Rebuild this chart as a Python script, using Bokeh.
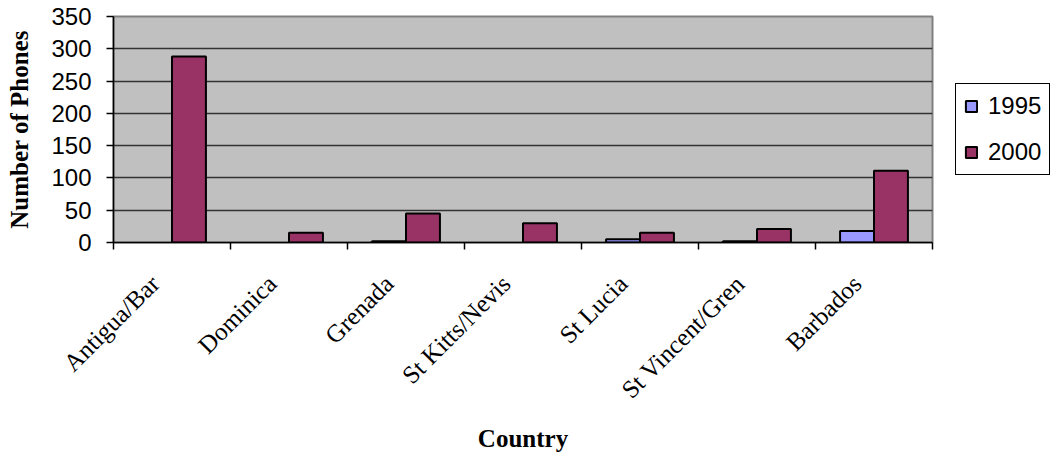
from bokeh.plotting import figure
from bokeh.models import (ColumnDataSource, FixedTicker, Range1d, Legend, LegendItem,
                          CDSView, BooleanFilter)
from bokeh.embed import file_html
from bokeh.resources import INLINE

countries = ["Antigua/Bar", "Dominica", "Grenada", "St Kitts/Nevis",
             "St Lucia", "St Vincent/Gren", "Barbados"]
phones_1995 = [0, 0, 2, 0, 5, 2, 18]
phones_2000 = [288, 15, 45, 30, 15, 21, 111]
y_ticks = [0, 50, 100, 150, 200, 250, 300, 350]
series = ["1995", "2000"]
colors = ["#9999FF", "#993366"]

n = len(countries)
bar_w = 0.29
centers = [i + 0.5 for i in range(n)]
label_shift = 0.145

src = ColumnDataSource(dict(
    x95=[c - bar_w / 2 for c in centers],
    x00=[c + bar_w / 2 for c in centers],
    v95=phones_1995,
    v00=phones_2000,
))
view95 = CDSView(filter=BooleanFilter([v > 0 for v in phones_1995]))
view00 = CDSView(filter=BooleanFilter([v > 0 for v in phones_2000]))

p = figure(width=1051, height=456, frame_width=819, frame_height=226,
           output_backend="svg", toolbar_location=None,
           x_range=Range1d(0, n), y_range=Range1d(0, 350),
           min_border_left=113, min_border_right=0,
           min_border_top=16, min_border_bottom=214)

p.background_fill_color = "#C0C0C0"
p.border_fill_color = "white"
p.outline_line_color = "#808080"
p.outline_line_width = 2

r95 = p.vbar(x="x95", top="v95", width=bar_w, source=src, view=view95,
             fill_color=colors[0], line_color="black", line_width=2)
r00 = p.vbar(x="x00", top="v00", width=bar_w, source=src, view=view00,
             fill_color=colors[1], line_color="black", line_width=2)

# x axis: labels near category centres, tick marks at category boundaries
label_pos = [c - label_shift for c in centers]
xa = p.xaxis[0]
xa.ticker = FixedTicker(ticks=label_pos, minor_ticks=list(range(n + 1)))
xa.major_label_overrides = {c: name for c, name in zip(label_pos, countries)}
xa.major_tick_out = 0
xa.major_tick_in = 0
xa.minor_tick_out = 7
xa.minor_tick_in = 0
xa.minor_tick_line_color = "black"
xa.minor_tick_line_width = 1.5
xa.axis_line_color = "black"
xa.axis_line_width = 1.5
xa.major_label_orientation = 0.785398
xa.major_label_text_font = "Liberation Serif"
xa.major_label_text_font_size = "25px"
xa.major_label_text_color = "black"
xa.major_label_standoff = 30
xa.axis_label = "Country"
xa.axis_label_text_font = "Liberation Serif"
xa.axis_label_text_font_style = "bold"
xa.axis_label_text_font_size = "25px"
xa.axis_label_text_color = "black"
xa.axis_label_standoff = 9

ya = p.yaxis[0]
ya.ticker = FixedTicker(ticks=y_ticks, minor_ticks=[])
ya.major_tick_out = 7
ya.major_tick_in = 0
ya.major_tick_line_color = "black"
ya.major_tick_line_width = 1.5
ya.axis_line_color = "black"
ya.axis_line_width = 1.5
ya.major_label_text_font = "Liberation Sans"
ya.major_label_text_font_size = "24px"
ya.major_label_text_color = "black"
ya.major_label_standoff = 15
ya.axis_label = "Number of Phones"
ya.axis_label_text_font = "Liberation Serif"
ya.axis_label_text_font_style = "bold"
ya.axis_label_text_font_size = "25px"
ya.axis_label_text_color = "black"
ya.axis_label_standoff = 15

p.xgrid.visible = False
p.ygrid.grid_line_color = "#333333"
p.ygrid.grid_line_width = 1.5
p.ygrid.ticker = FixedTicker(ticks=y_ticks)

legend = Legend(items=[LegendItem(label=s, renderers=[r]) for s, r in zip(series, [r95, r00])],
                location="center_left")
legend.label_text_font = "Liberation Sans"
legend.label_text_font_size = "24px"
legend.label_text_color = "black"
legend.label_height = 24
legend.glyph_height = 14
legend.glyph_width = 14
legend.spacing = 18
legend.padding = 8
legend.margin = 23
legend.label_standoff = 10
legend.border_line_color = "black"
legend.border_line_width = 1.5
legend.border_line_alpha = 1
legend.background_fill_color = "white"
legend.background_fill_alpha = 1
p.add_layout(legend, "right")

open("out.html", "w").write(file_html(p, INLINE))
